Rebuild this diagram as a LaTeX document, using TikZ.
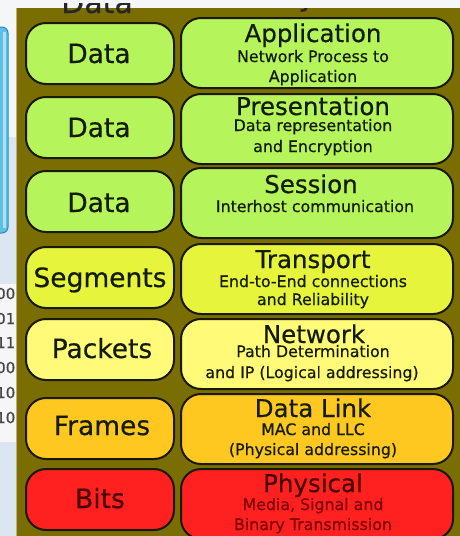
\documentclass[tikz,border=0pt]{standalone}
\usepackage{fontspec}
\setmainfont{DejaVu Sans}[FakeBold=0.45]
\definecolor{olivebg}{RGB}{122,110,2}
\definecolor{pagebg}{RGB}{244,246,248}
\definecolor{stripblue}{RGB}{220,230,240}
\definecolor{numbox}{RGB}{246,246,246}
\definecolor{cyanbar}{RGB}{95,190,230}
\definecolor{cyanedge}{RGB}{40,140,195}
\definecolor{cyanhi}{RGB}{170,225,245}
\definecolor{tanedge}{RGB}{200,170,120}
\definecolor{boxline}{RGB}{25,25,5}
\definecolor{txtdark}{RGB}{20,28,0}
\definecolor{fillgreen}{RGB}{182,244,92}
\definecolor{fillseg}{RGB}{230,244,60}
\definecolor{fillpkt}{RGB}{255,250,120}
\definecolor{fillframe}{RGB}{255,200,32}
\definecolor{fillbits}{RGB}{255,32,32}
\definecolor{redtitle}{RGB}{70,0,0}
\definecolor{redsub}{RGB}{125,0,0}
\tikzset{
  unitbox/.style={draw=boxline, line width=2pt, rounded corners=20pt, anchor=north west,
                  minimum width=148pt, minimum height=61pt, inner sep=0pt},
  layerbox/.style={draw=boxline, line width=2pt, rounded corners=20pt, anchor=north west,
                  minimum width=272pt, minimum height=70pt, inner sep=0pt},
  unitlbl/.style={anchor=base, inner sep=0pt, text=txtdark, font=\fontsize{26.5}{30}\selectfont},
  layertitle/.style={anchor=base, inner sep=0pt, text=txtdark, font=\fontsize{24.5}{28}\selectfont},
  layersub/.style={anchor=base, inner sep=0pt, text=txtdark, font=\fontsize{15.8}{18}\selectfont},
  numtxt/.style={anchor=base west, inner sep=0pt, text=black!72, font=\fontsize{15}{17}\selectfont},
  headtxt/.style={anchor=base, inner sep=0pt, text=black!85, font=\fontsize{30}{34}\selectfont},
}
\begin{document}
\begin{tikzpicture}[x=1pt,y=-1pt]
\useasboundingbox (0,0) rectangle (460,536);
\clip (0,0) rectangle (460,536);
% page background and left strip
\fill[pagebg] (0,0) rectangle (460,536);
\fill[stripblue] (0,137) rectangle (16,536);
\fill[numbox] (0,284) rectangle (16,442);
\fill[cyanbar, draw=cyanedge, line width=1pt, rounded corners=6pt] (-12,27) rectangle (8,233);
\fill[cyanhi] (3,32) rectangle (6,228);
% binary digits
\node[numtxt] (n1) at (-4,299) {00};
\node[numtxt] (n2) at (-4,324) {01};
\node[numtxt] (n3) at (-4,348) {11};
\node[numtxt] (n4) at (-4,373) {00};
\node[numtxt] (n5) at (-4,398) {10};
\node[numtxt] (n6) at (-4,423) {10};
% header (cut off)
\node[headtxt] (hData) at (97,13) {Data};
\node[headtxt] (hLayer) at (305,5.5) {Layer};
\fill[pagebg] (16,0) rectangle (460,3);
\fill[pagebg] (200,0) rectangle (460,8);
% olive panel
\fill[olivebg] (16,8) rectangle (462,540);
\begin{scope}
\clip (16,8) rectangle (460,14);
\node[headtxt] (hDataB) at (97,13) {Data};
\node[headtxt] (hLayerB) at (305,5.5) {Layer};
\end{scope}
\draw[tanedge, line width=1.5pt] (16.5,8) -- (16.5,540);
% left column: data units
\node[unitbox, fill=fillgreen] (u1) at (25,22) {};
\node[unitbox, fill=fillgreen] (u2) at (25,96) {};
\node[unitbox, fill=fillgreen] (u3) at (25,170) {};
\node[unitbox, fill=fillseg]   (u4) at (25,246) {};
\node[unitbox, fill=fillpkt]   (u5) at (25,318) {};
\node[unitbox, fill=fillframe] (u6) at (25,397) {};
\node[unitbox, fill=fillbits]  (u7) at (25,468) {};
\node[unitlbl] (u1t) at (99,63) {Data};
\node[unitlbl] (u2t) at (99,137) {Data};
\node[unitlbl] (u3t) at (99,212) {Data};
\node[unitlbl] (u4t) at (100,287) {Segments};
\node[unitlbl] (u5t) at (102,358) {Packets};
\node[unitlbl] (u6t) at (102,435) {Frames};
\node[unitlbl, text=redtitle] (u7t) at (100,508) {Bits};
% right column: layers
\node[layerbox, fill=fillgreen] (l1) at (180,17) {};
\node[layerbox, fill=fillgreen] (l2) at (180,93) {};
\node[layerbox, fill=fillgreen] (l3) at (180,167) {};
\node[layerbox, fill=fillseg]   (l4) at (180,243) {};
\node[layerbox, fill=fillpkt]   (l5) at (180,318) {};
\node[layerbox, fill=fillframe] (l6) at (180,393) {};
\node[layerbox, fill=fillbits]  (l7) at (180,468) {};
% layer texts
\node[layertitle] (l1t) at (313,42) {Application};
\node[layersub] (l1a) at (313,62) {Network Process to};
\node[layersub] (l1b) at (313,82) {Application};
\node[layertitle] (l2t) at (313,115) {Presentation};
\node[layersub] (l2a) at (313,131) {Data representation};
\node[layersub] (l2b) at (313,152) {and Encryption};
\node[layertitle] (l3t) at (311,193) {Session};
\node[layersub] (l3a) at (315,212) {Interhost communication};
\node[layertitle] (l4t) at (313,268) {Transport};
\node[layersub] (l4a) at (313,287) {End-to-End connections};
\node[layersub] (l4b) at (313,305) {and Reliability};
\node[layertitle] (l5t) at (314,343) {Network};
\node[layersub] (l5a) at (313,357) {Path Determination};
\node[layersub] (l5b) at (312,378) {and IP (Logical addressing)};
\node[layertitle] (l6t) at (313,417) {Data Link};
\node[layersub] (l6a) at (313,435) {MAC and LLC};
\node[layersub] (l6b) at (313,455) {(Physical addressing)};
\node[layertitle, text=redtitle] (l7t) at (313,492) {Physical};
\node[layersub, text=redsub] (l7a) at (313,510) {Media, Signal and};
\node[layersub, text=redsub] (l7b) at (313,530) {Binary Transmission};
\end{tikzpicture}
\end{document}
